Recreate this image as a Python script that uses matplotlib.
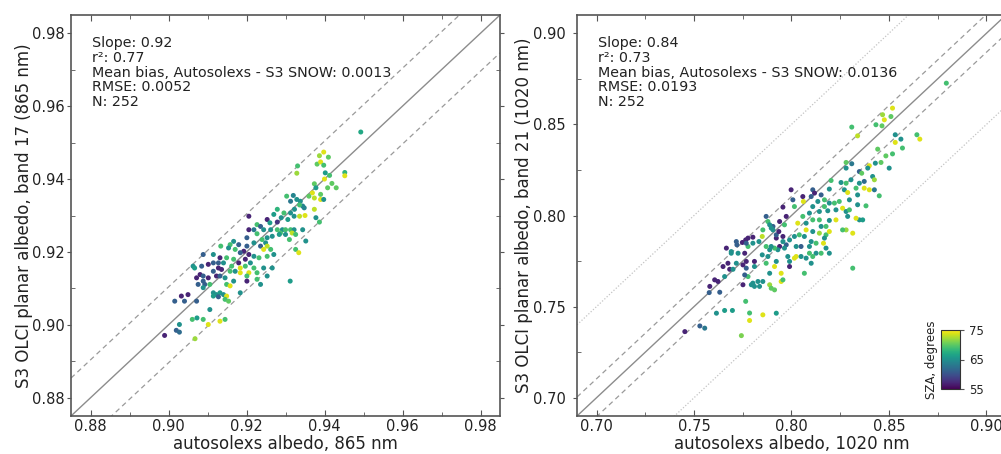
import numpy as np
import matplotlib
matplotlib.use("Agg")
import matplotlib.pyplot as plt
from matplotlib.ticker import MultipleLocator

# band 17 (865 nm): autosolexs albedo, OLCI albedo, SZA (degrees)
x_865 = [0.9493, 0.9398, 0.9387, 0.9410, 0.9381, 0.9390, 0.9398, 0.9402, 0.9331, 0.9329,
         0.9452, 0.9452, 0.9413, 0.9400, 0.9419, 0.9430, 0.9374, 0.9378, 0.9408, 0.9369,
         0.9360, 0.9390, 0.9390, 0.9398, 0.9374, 0.9320, 0.9303, 0.9329, 0.9313, 0.9338,
         0.9344, 0.9336, 0.9323, 0.9348, 0.9279, 0.9296, 0.9313, 0.9374, 0.9350, 0.9336,
         0.9322, 0.9378, 0.9387, 0.9270, 0.9289, 0.9306, 0.9253, 0.9260, 0.9279, 0.9227,
         0.9206, 0.9236, 0.9219, 0.9244, 0.9206, 0.9262, 0.9279, 0.9292, 0.9300, 0.9313,
         0.9322, 0.9344, 0.9287, 0.9300, 0.9317, 0.9326, 0.9266, 0.9284, 0.9253, 0.9227,
         0.9240, 0.9249, 0.9236, 0.9219, 0.9201, 0.9310, 0.9352, 0.9253, 0.9244, 0.9262,
         0.9326, 0.9334, 0.9201, 0.9193, 0.9180, 0.9167, 0.9158, 0.9134, 0.9154, 0.9171,
         0.9184, 0.9206, 0.9219, 0.9232, 0.9253, 0.9270, 0.9197, 0.9210, 0.9180, 0.9167,
         0.9149, 0.9132, 0.9115, 0.9089, 0.9128, 0.9141, 0.9162, 0.9184, 0.9197, 0.9219,
         0.9244, 0.9266, 0.9115, 0.9102, 0.9063, 0.9067, 0.9085, 0.9128, 0.9136, 0.9115,
         0.9158, 0.9171, 0.9184, 0.9206, 0.9227, 0.9253, 0.9201, 0.9081, 0.9089, 0.9102,
         0.9123, 0.9132, 0.9145, 0.9072, 0.9089, 0.9076, 0.9093, 0.9106, 0.9149, 0.9167,
         0.9201, 0.9227, 0.9236, 0.9089, 0.9158, 0.9184, 0.9115, 0.9123, 0.9132, 0.9141,
         0.9115, 0.9128, 0.9149, 0.9145, 0.9154, 0.9050, 0.9041, 0.9033, 0.9072, 0.9106,
         0.9016, 0.9061, 0.9073, 0.9089, 0.9102, 0.9132, 0.9145, 0.9028, 0.9020, 0.9028,
         0.8990, 0.9068, 0.9312]
y_865 = [0.9529, 0.9474, 0.9464, 0.9460, 0.9441, 0.9447, 0.9438, 0.9417, 0.9436, 0.9416,
         0.9418, 0.9409, 0.9410, 0.9400, 0.9388, 0.9376, 0.9387, 0.9376, 0.9376, 0.9362,
         0.9353, 0.9358, 0.9344, 0.9344, 0.9348, 0.9355, 0.9353, 0.9344, 0.9339, 0.9339,
         0.9326, 0.9329, 0.9317, 0.9321, 0.9317, 0.9307, 0.9307, 0.9317, 0.9300, 0.9298,
         0.9298, 0.9294, 0.9282, 0.9303, 0.9294, 0.9289, 0.9289, 0.9280, 0.9282, 0.9275,
         0.9298, 0.9270, 0.9261, 0.9261, 0.9261, 0.9261, 0.9261, 0.9261, 0.9261, 0.9261,
         0.9261, 0.9261, 0.9252, 0.9248, 0.9252, 0.9248, 0.9243, 0.9248, 0.9239, 0.9250,
         0.9234, 0.9225, 0.9216, 0.9225, 0.9239, 0.9234, 0.9230, 0.9216, 0.9207, 0.9207,
         0.9207, 0.9198, 0.9216, 0.9202, 0.9220, 0.9229, 0.9220, 0.9216, 0.9211, 0.9207,
         0.9198, 0.9193, 0.9188, 0.9184, 0.9188, 0.9193, 0.9180, 0.9170, 0.9170, 0.9180,
         0.9184, 0.9184, 0.9193, 0.9193, 0.9170, 0.9170, 0.9161, 0.9156, 0.9161, 0.9156,
         0.9156, 0.9156, 0.9170, 0.9166, 0.9161, 0.9156, 0.9161, 0.9156, 0.9152, 0.9147,
         0.9147, 0.9147, 0.9143, 0.9143, 0.9143, 0.9134, 0.9134, 0.9138, 0.9134, 0.9129,
         0.9134, 0.9134, 0.9129, 0.9129, 0.9120, 0.9111, 0.9111, 0.9111, 0.9111, 0.9120,
         0.9120, 0.9125, 0.9111, 0.9102, 0.9107, 0.9088, 0.9088, 0.9083, 0.9088, 0.9083,
         0.9079, 0.9077, 0.9079, 0.9070, 0.9065, 0.9083, 0.9065, 0.9079, 0.9065, 0.9042,
         0.9065, 0.9015, 0.9019, 0.9015, 0.9001, 0.9010, 0.9015, 0.9001, 0.8985, 0.8980,
         0.8971, 0.8962, 0.9120]
sza_865 = [67, 74, 72, 70, 70, 74, 69, 66, 69, 72,
           68, 74, 69, 74, 70, 70, 70, 66, 70, 74,
           70, 70, 74, 65, 73, 64, 69, 65, 63, 65,
           64, 69, 65, 64, 68, 69, 65, 73, 74, 73,
           65, 65, 69, 66, 65, 66, 57, 66, 58, 69,
           57, 61, 63, 65, 57, 65, 69, 65, 69, 69,
           65, 65, 69, 65, 73, 69, 65, 66, 65, 69,
           69, 65, 61, 65, 61, 69, 65, 73, 74, 69,
           69, 74, 61, 57, 61, 65, 69, 69, 65, 69,
           61, 57, 65, 69, 69, 65, 57, 65, 57, 69,
           69, 57, 65, 61, 61, 65, 69, 74, 69, 69,
           65, 65, 61, 57, 65, 66, 61, 57, 57, 61,
           69, 65, 74, 74, 69, 65, 69, 57, 61, 57,
           57, 61, 65, 57, 61, 61, 61, 69, 69, 65,
           57, 69, 65, 65, 74, 65, 65, 65, 66, 65,
           66, 61, 74, 69, 70, 57, 61, 57, 61, 65,
           61, 69, 66, 69, 74, 74, 69, 65, 61, 62,
           57, 72, 66]

# band 21 (1020 nm)
x_1020 = [0.8794, 0.8518, 0.8510, 0.8467, 0.8476, 0.8464, 0.8433, 0.8309, 0.8339, 0.8532,
          0.8561, 0.8643, 0.8658, 0.8532, 0.8569, 0.8442, 0.8518, 0.8484, 0.8459, 0.8430,
          0.8399, 0.8501, 0.8280, 0.8309, 0.8280, 0.8348, 0.8360, 0.8391, 0.8416, 0.8425,
          0.8203, 0.8254, 0.8280, 0.8305, 0.8348, 0.8373, 0.8331, 0.8373, 0.8399, 0.8425,
          0.8450, 0.8271, 0.8288, 0.8194, 0.8339, 0.8297, 0.8339, 0.8382, 0.8348, 0.8365,
          0.8331, 0.8314, 0.8280, 0.8262, 0.8314, 0.8152, 0.8169, 0.8109, 0.8118, 0.8101,
          0.8058, 0.8061, 0.7998, 0.8007, 0.8015, 0.8109, 0.8135, 0.8169, 0.8194, 0.8220,
          0.8245, 0.8228, 0.8186, 0.8143, 0.8092, 0.8262, 0.8280, 0.8297, 0.8288, 0.8228,
          0.8194, 0.8143, 0.8109, 0.8058, 0.8032, 0.8075, 0.8152, 0.8177, 0.8075, 0.8109,
          0.8143, 0.8177, 0.8194, 0.8040, 0.8066, 0.8101, 0.8015, 0.7990, 0.8092, 0.8126,
          0.8169, 0.8164, 0.8177, 0.8152, 0.8194, 0.8126, 0.8092, 0.8049, 0.8024, 0.7973,
          0.7964, 0.8024, 0.8015, 0.8049, 0.8075, 0.8109, 0.8101, 0.8066, 0.7956, 0.7939,
          0.7930, 0.7913, 0.7896, 0.7888, 0.7922, 0.7922, 0.7956, 0.7964, 0.7939, 0.7905,
          0.7896, 0.7879, 0.7956, 0.7973, 0.7870, 0.7853, 0.7850, 0.7802, 0.7777, 0.7833,
          0.7850, 0.7879, 0.7870, 0.7922, 0.7913, 0.7888, 0.7947, 0.7990, 0.7990, 0.7947,
          0.7956, 0.7888, 0.7896, 0.7913, 0.7828, 0.7853, 0.7802, 0.7810, 0.7836, 0.7794,
          0.7777, 0.7760, 0.7768, 0.7751, 0.7768, 0.7810, 0.7810, 0.7751, 0.7765, 0.7785,
          0.7785, 0.7853, 0.7922, 0.7743, 0.7615, 0.7657, 0.7697, 0.7530, 0.7555, 0.7453,
          0.7581, 0.7578, 0.7632, 0.7606, 0.7623, 0.7657, 0.7649, 0.7683, 0.7674, 0.7700,
          0.7691, 0.7666, 0.7691, 0.7717, 0.7720, 0.7748, 0.7765, 0.7768, 0.7777, 0.7802,
          0.7726, 0.7717, 0.7760, 0.7870, 0.7888, 0.7905, 0.7935, 0.7981]
y_1020 = [0.8726, 0.8589, 0.8543, 0.8553, 0.8525, 0.8492, 0.8498, 0.8485, 0.8437, 0.8443,
          0.8419, 0.8443, 0.8419, 0.8401, 0.8370, 0.8364, 0.8338, 0.8327, 0.8291, 0.8287,
          0.8273, 0.8260, 0.8291, 0.8284, 0.8260, 0.8241, 0.8232, 0.8260, 0.8214, 0.8196,
          0.8192, 0.8181, 0.8177, 0.8196, 0.8177, 0.8187, 0.8150, 0.8150, 0.8141, 0.8141,
          0.8108, 0.8141, 0.8126, 0.8145, 0.8113, 0.8086, 0.8059, 0.8053, 0.7976, 0.7976,
          0.7985, 0.7903, 0.7921, 0.7921, 0.7711, 0.8113, 0.8086, 0.8141, 0.8123, 0.8104,
          0.8104, 0.8077, 0.8141, 0.8086, 0.8049, 0.8049, 0.8077, 0.8049, 0.8068, 0.8068,
          0.8077, 0.8031, 0.8026, 0.8022, 0.8013, 0.8040, 0.8022, 0.8031, 0.7995, 0.7976,
          0.7973, 0.7976, 0.7976, 0.7995, 0.7958, 0.7958, 0.7940, 0.7940, 0.7921, 0.7912,
          0.7903, 0.7894, 0.7912, 0.7894, 0.7885, 0.7857, 0.7885, 0.7866, 0.7830, 0.7848,
          0.7876, 0.7848, 0.7821, 0.7793, 0.7793, 0.7793, 0.7793, 0.7830, 0.7830, 0.7839,
          0.7821, 0.7775, 0.7766, 0.7775, 0.7766, 0.7775, 0.7738, 0.7683, 0.7857, 0.7830,
          0.7812, 0.7821, 0.7830, 0.7812, 0.7876, 0.7894, 0.7885, 0.7949, 0.7967, 0.7940,
          0.7931, 0.7967, 0.8046, 0.7995, 0.7830, 0.7921, 0.7885, 0.7848, 0.7830, 0.7857,
          0.7784, 0.7775, 0.7738, 0.7748, 0.7720, 0.7683, 0.7683, 0.7720, 0.7748, 0.7638,
          0.7647, 0.7620, 0.7601, 0.7592, 0.7638, 0.7638, 0.7629, 0.7611, 0.7611, 0.7620,
          0.7665, 0.7674, 0.7711, 0.7729, 0.7748, 0.7720, 0.7748, 0.7620, 0.7529, 0.7465,
          0.7424, 0.7455, 0.7464, 0.7341, 0.7464, 0.7479, 0.7479, 0.7394, 0.7382, 0.7363,
          0.7611, 0.7577, 0.7579, 0.7647, 0.7638, 0.7665, 0.7720, 0.7705, 0.7738, 0.7705,
          0.7793, 0.7821, 0.7802, 0.7857, 0.7839, 0.7852, 0.7866, 0.7848, 0.7876, 0.7881,
          0.7793, 0.7738, 0.7793, 0.7995, 0.7949, 0.7921, 0.7912, 0.7775]
sza_1020 = [69, 74, 70, 72, 74, 70, 69, 69, 73, 65,
            65, 69, 74, 74, 69, 70, 69, 70, 70, 65,
            74, 65, 70, 63, 65, 61, 70, 65, 65, 72,
            69, 65, 69, 65, 65, 62, 69, 74, 74, 63,
            69, 65, 74, 65, 65, 65, 65, 69, 65, 66,
            74, 74, 72, 69, 69, 61, 69, 61, 57, 61,
            57, 74, 57, 61, 69, 65, 65, 69, 65, 69,
            69, 65, 65, 65, 65, 74, 65, 69, 65, 74,
            65, 69, 69, 69, 74, 65, 65, 69, 74, 65,
            72, 69, 74, 69, 65, 65, 65, 65, 65, 69,
            65, 74, 65, 69, 65, 65, 69, 61, 65, 61,
            65, 74, 74, 65, 65, 69, 65, 69, 65, 57,
            65, 69, 65, 65, 57, 61, 57, 69, 57, 61,
            65, 69, 57, 57, 69, 69, 73, 65, 69, 65,
            65, 65, 69, 65, 74, 65, 74, 57, 65, 74,
            69, 72, 70, 70, 65, 65, 65, 65, 65, 65,
            69, 61, 61, 57, 57, 65, 57, 57, 69, 69,
            74, 74, 66, 71, 65, 66, 66, 61, 63, 57,
            57, 61, 61, 57, 57, 65, 57, 57, 57, 65,
            65, 57, 65, 61, 61, 57, 57, 61, 57, 57,
            65, 65, 57, 61, 65, 65, 57, 65]

stats_865 = ["Slope: 0.92", "r\u00b2: 0.77", "Mean bias, Autosolexs - S3 SNOW: 0.0013",
             "RMSE: 0.0052", "N: 252"]
stats_1020 = ["Slope: 0.84", "r\u00b2: 0.73", "Mean bias, Autosolexs - S3 SNOW: 0.0136",
              "RMSE: 0.0193", "N: 252"]

SPINE = "#555555"
TEXT = "#222222"


def style_axes(ax, lims, major, minor, ypad):
    ax.set_xlim(lims)
    ax.set_ylim(lims)
    ax.xaxis.set_major_locator(MultipleLocator(major))
    ax.yaxis.set_major_locator(MultipleLocator(major))
    ax.xaxis.set_minor_locator(MultipleLocator(minor))
    ax.yaxis.set_minor_locator(MultipleLocator(minor))
    ax.tick_params(which="both", top=True, right=True, colors=SPINE,
                   labelcolor=TEXT, labelsize=10.5)
    ax.tick_params(axis="x", which="major", direction="in", length=4, pad=2.5)
    ax.tick_params(axis="x", which="minor", direction="in", length=3)
    ax.tick_params(axis="y", which="major", direction="out", length=3, pad=ypad)
    ax.tick_params(axis="y", which="minor", direction="in", length=3)
    for s in ax.spines.values():
        s.set_color(SPINE)
        s.set_linewidth(1.2)


def draw_panel(ax, x, y, sza, lims, offsets, stats, xlabel, ylabel, ylab_x):
    line = np.array(lims)
    ax.plot(line, line, color="#8c8c8c", lw=1.0, zorder=1)
    for off, ls, col in offsets:
        ax.plot(line, line + off, color=col, lw=0.9, ls=ls, zorder=1)
        ax.plot(line, line - off, color=col, lw=0.9, ls=ls, zorder=1)
    sc = ax.scatter(x, y, c=sza, cmap="viridis", vmin=55, vmax=75, s=13,
                    linewidths=0, zorder=3)
    for i, t in enumerate(stats):
        ax.text(0.048, 0.9195 - i * 0.0367, t, transform=ax.transAxes, fontsize=10.3,
                color=TEXT, va="baseline", ha="left")
    ax.set_xlabel(xlabel, fontsize=12, color=TEXT)
    ax.set_ylabel(ylabel, fontsize=12, color=TEXT)
    ax.xaxis.set_label_coords(0.5, -0.048)
    ax.yaxis.set_label_coords(ylab_x, 0.5)
    return sc


fig = plt.figure(figsize=(10.01, 4.54), dpi=100)
ax1 = fig.add_axes([71 / 1001, 38 / 454, 429 / 1001, 401 / 454])
ax2 = fig.add_axes([577 / 1001, 38 / 454, 429 / 1001, 401 / 454])

draw_panel(ax1, x_865, y_865, sza_865, (0.875, 0.985),
           [(0.0104, (0, (4, 3)), "#9a9a9a")], stats_865,
           "autosolexs albedo, 865 nm", "S3 OLCI planar albedo, band 17 (865 nm)", -0.089)
style_axes(ax1, (0.875, 0.985), 0.02, 0.01, 1.5)

sc = draw_panel(ax2, x_1020, y_1020, sza_1020, (0.69, 0.91),
                [(0.0104, (0, (4, 3)), "#9a9a9a"), (0.05, (0, (1, 1.5)), "#c4c4c4")],
                stats_1020, "autosolexs albedo, 1020 nm",
                "S3 OLCI planar albedo, band 21 (1020 nm)", -0.103)
style_axes(ax2, (0.69, 0.91), 0.05, 0.025, 5)

# small colour bar inside the right panel
cax = fig.add_axes([941 / 1001, 65 / 454, 19 / 1001, 59 / 454])
cb = fig.colorbar(sc, cax=cax, ticks=[55, 65, 75])
cb.outline.set_edgecolor("#333333")
cb.ax.tick_params(labelsize=8.5, colors=SPINE, labelcolor=TEXT, length=3)
cb.ax.yaxis.set_label_position("left")
cb.set_label("SZA, degrees", fontsize=8.5, color=TEXT, labelpad=2)

fig.savefig("out.png", dpi=100)
